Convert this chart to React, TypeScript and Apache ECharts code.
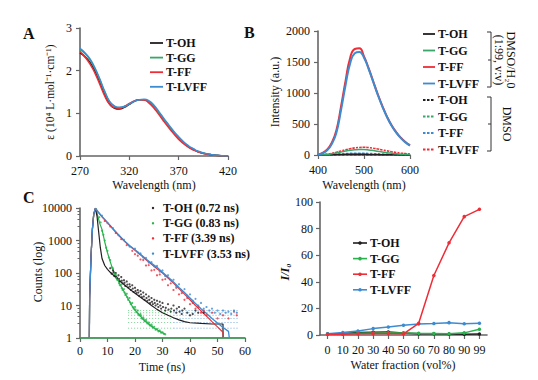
import React, { useEffect, useRef } from "react";
import * as echarts from "echarts";

const FONT = "'Liberation Serif', 'Times New Roman', serif";
const AX = "#666666";
const TXT = "#111111";
const K = "#231f20";
const G = "#3aa66a";
const G2 = "#27b24c";
const R = "#ee2d36";
const B = "#3d8bd0";

// ---------- Panel A : absorption ----------
const wlA = [270, 275, 280, 285, 290, 295, 300, 305, 310, 315, 320, 325, 330, 335, 340, 345, 350, 355, 360, 365, 370, 375, 380, 385, 390, 395, 400, 405, 410, 415, 420];
const absOH = [2.42, 2.33, 2.2, 2.0, 1.74, 1.45, 1.22, 1.12, 1.1, 1.14, 1.21, 1.28, 1.32, 1.32, 1.27, 1.16, 1.01, 0.85, 0.7, 0.55, 0.42, 0.31, 0.22, 0.15, 0.1, 0.065, 0.04, 0.025, 0.013, 0.006, 0.002];
const absGG = [2.5, 2.4, 2.26, 2.05, 1.79, 1.5, 1.27, 1.16, 1.13, 1.16, 1.22, 1.28, 1.32, 1.32, 1.27, 1.16, 1.01, 0.85, 0.7, 0.55, 0.42, 0.31, 0.22, 0.15, 0.1, 0.065, 0.04, 0.025, 0.013, 0.006, 0.002];
const absFF = [2.45, 2.32, 2.16, 1.95, 1.68, 1.41, 1.21, 1.13, 1.12, 1.16, 1.23, 1.29, 1.32, 1.31, 1.24, 1.12, 0.97, 0.81, 0.66, 0.52, 0.39, 0.29, 0.2, 0.14, 0.09, 0.06, 0.035, 0.02, 0.01, 0.005, 0.002];
const absLVFF = [2.52, 2.42, 2.28, 2.07, 1.81, 1.52, 1.28, 1.17, 1.14, 1.16, 1.22, 1.28, 1.32, 1.33, 1.29, 1.19, 1.04, 0.88, 0.73, 0.58, 0.45, 0.33, 0.24, 0.17, 0.11, 0.07, 0.045, 0.028, 0.015, 0.007, 0.002];

// ---------- Panel B : emission ----------
const wlB = [400, 410, 420, 430, 440, 450, 460, 470, 480, 490, 500, 510, 520, 530, 540, 550, 560, 570, 580, 590, 600];
const emOH = [1, 2, 3, 5, 7, 9, 11, 12, 12, 12, 11, 10, 8, 7, 5, 4, 3, 2, 2, 1, 1];
const emGG = [2, 5, 10, 20, 33, 48, 63, 76, 85, 89, 88, 82, 72, 60, 48, 37, 28, 20, 14, 10, 7];
const emFF = [10, 35, 90, 200, 400, 780, 1200, 1570, 1710, 1720, 1590, 1400, 1190, 980, 790, 620, 480, 370, 280, 210, 158];
const emLVFF = [8, 28, 75, 175, 360, 720, 1130, 1480, 1640, 1660, 1570, 1390, 1180, 970, 780, 612, 472, 362, 272, 204, 152];
const emOHd = [0, 1, 1, 2, 2, 3, 3, 3, 3, 3, 3, 3, 2, 2, 2, 1, 1, 1, 1, 0, 0];
const emGGd = [1, 2, 4, 7, 10, 14, 17, 19, 20, 20, 19, 17, 15, 12, 10, 8, 6, 4, 3, 2, 2];
const emFFd = [1, 3, 6, 11, 17, 22, 26, 29, 30, 30, 29, 27, 24, 20, 17, 13, 10, 8, 6, 4, 3];
const emLVFFd = [3, 7, 15, 28, 45, 65, 85, 102, 115, 122, 124, 120, 110, 97, 82, 67, 53, 41, 31, 23, 17];

// ---------- Panel C : decay (t ns, counts) ----------
const fitOH = [[3.4, 1], [3.5, 20], [4, 300], [4.5, 2200], [5, 6500], [5.6, 9800], [6.2, 5500], [6.8, 1800], [7.4, 600], [8, 280], [9, 170], [10, 130], [11, 105], [12, 88], [14, 62], [16, 44], [18, 32], [20, 24], [22, 18], [24, 13.5], [26, 10], [28, 7.6], [30, 6], [32, 5], [34, 4.2], [36, 3.6], [38, 3.2], [40, 2.95], [44, 2.8], [48, 2.7], [52, 2.7], [52, 1]];
const fitGG = [[3.4, 1], [3.5, 20], [4, 300], [4.5, 2200], [5, 6500], [5.8, 9900], [6.5, 5500], [7.2, 3300], [8, 2200], [9, 900], [10, 420], [11, 220], [12, 125], [13, 80], [14, 55], [15, 38], [16, 27], [17, 19], [18, 13.5], [19, 9.5], [20, 7.2], [21, 5.8], [22, 4.6], [23, 3.7], [24, 3.1], [25, 2.7], [26, 2.3], [27, 2], [28, 1.8], [29, 1.6], [30, 1.45], [31, 1.3]];
const fitFF = [[3.4, 1], [3.5, 15], [4, 300], [4.5, 2200], [5, 6500], [5.6, 9800], [6.5, 7600], [8, 5300], [10, 3500], [12, 2250], [14, 1450], [16, 980], [18, 680], [20, 500], [22, 360], [24, 255], [26, 185], [28, 135], [30, 100], [32, 70], [34, 49], [36, 33], [38, 22.5], [40, 15], [42, 10], [44, 6.8], [46, 4.7], [48, 3.2], [50, 2.2], [52, 1.5], [52.2, 1]];
const fitLVFF = [[3.4, 1], [3.5, 15], [4, 300], [4.5, 2200], [5, 6500], [5.6, 9900], [6.5, 7800], [8, 5500], [10, 3600], [12, 2300], [14, 1500], [16, 1000], [18, 700], [20, 520], [22, 380], [24, 270], [26, 200], [28, 150], [30, 105], [32, 75], [34, 53], [36, 36], [38, 25], [40, 17], [42, 11.5], [44, 8], [46, 5.7], [48, 4], [50, 2.9], [52, 2.1], [54, 1.6], [54.3, 1]];
const ptsOH = [[11, 140], [11.5, 95], [12, 120], [12.5, 80], [13, 100], [13.5, 70], [14, 85], [14.5, 55], [15, 75], [15.5, 48], [16, 60], [16.5, 40], [17, 55], [17.5, 36], [18, 45], [18.5, 30], [19, 42], [19.5, 26], [20, 35], [20.5, 24], [21, 30], [21.5, 20], [22, 28], [22.5, 18], [23, 25], [23.5, 15], [24, 22], [24.5, 14], [25, 19], [25.5, 12], [26, 17], [26.5, 11], [27, 15], [27.5, 10], [28, 14], [28.5, 9], [29, 13], [29.5, 8], [30, 12], [31, 7], [32, 11], [33, 6.5], [34, 10], [35, 6], [36, 9], [37, 5.5], [38, 8], [40, 5], [42, 7], [45, 6],
  [12.2, 105], [13.2, 78], [14.2, 66], [15.2, 58], [16.2, 50], [17.2, 44], [18.2, 38], [19.2, 33], [20.2, 28], [21.2, 25], [22.2, 22], [23.2, 19], [24.2, 17], [25.2, 15], [26.2, 13], [27.2, 12], [28.2, 11], [29.2, 10], [30.2, 9], [31.2, 8.5], [32.2, 7.5], [33.2, 8], [34.2, 7], [35.2, 8], [36.2, 6.5], [37.2, 7], [39, 6], [41, 5.5], [43, 6]];
const ptsGG = [[7, 5200], [7.5, 3600], [8, 2000], [8.5, 1500], [9, 1000], [9.5, 600], [10, 480], [10.5, 300], [11, 250], [11.5, 150], [12, 140], [12.5, 95], [13, 90], [13.5, 62], [14, 60], [14.5, 42], [15, 44], [15.5, 30], [16, 32], [16.5, 21], [17, 23], [17.5, 15], [18, 17], [18.5, 11], [19, 12], [19.5, 8], [20, 9], [20.5, 6.2], [21, 7], [21.5, 5], [22, 5.4], [22.5, 4], [23, 4.3], [23.5, 3.3], [24, 3.6], [24.5, 2.8], [25, 3], [25.5, 2.4], [26, 2.6], [26.5, 2.1], [27, 2.2], [27.5, 1.8], [28, 1.9], [28.5, 1.6], [29, 1.7], [29.5, 1.45], [30, 1.5], [30.5, 1.35], [31, 1.3],
  [13.2, 70], [14.2, 48], [15.2, 34], [16.2, 25], [17.2, 18], [18.2, 12.5], [19.2, 9], [20.2, 7.5], [21.2, 5.5], [22.2, 4.8], [23.2, 3.8], [24.2, 3.2], [25.2, 2.6], [26.2, 2.3]];
const ptsFF = [[9, 4000], [11, 2700], [13, 1700], [15, 1100], [17, 720], [19, 480], [20, 380], [21, 340], [22, 260], [23, 250], [24, 170], [25, 175], [26, 120], [27, 125], [28, 85], [29, 90], [30, 62], [31, 65], [32, 42], [33, 48], [34, 30], [35, 35], [36, 22], [37, 24], [38, 15], [39, 17], [40, 11], [41, 12], [42, 8], [43, 9], [44, 6], [45, 7], [46, 5], [48, 6], [50, 4], [52, 5], [54, 4], [56, 6.5], [57, 5]];
const ptsLVFF = [[8, 5800], [10, 3400], [12, 2400], [14, 1450], [16, 1050], [18, 650], [20, 560], [21, 430], [22, 400], [23, 300], [24, 290], [25, 210], [26, 215], [27, 160], [28, 165], [29, 110], [30, 120], [31, 80], [32, 85], [33, 60], [34, 62], [35, 40], [36, 45], [37, 28], [38, 32], [39, 20], [40, 22], [41, 14], [42, 16], [43, 10], [44, 12], [45, 8], [46, 9], [47, 7], [48, 8], [49, 6], [50, 7], [51, 5.5], [52, 7], [53, 6], [54, 6.5], [55, 5.5], [56, 7], [57, 6]];
const rowLevels = [2, 3, 4, 5, 6, 7];
const rowGreen = [17.5, 34];
const rowBlue = [34, 57.5];
const baseline = [[0, 1], [60, 1]];

// ---------- Panel D : water fraction ----------
const waterFrac = ["0", "10", "20", "30", "40", "50", "60", "70", "80", "90", "99"];
const dOH = [0.8, 1.2, 1.8, 2.0, 2.2, 1.5, 1.0, 0.9, 0.7, 0.6, 0.8];
const dGG = [0.8, 1.0, 1.3, 1.5, 1.6, 1.5, 1.3, 1.2, 1.0, 1.6, 4.3];
const dFF = [0.5, 0.6, 1.0, 1.2, 1.2, 0.9, 8.8, 44.7, 69.3, 89, 94.5];
const dLVFF = [0.9, 1.9, 3.0, 4.8, 6.0, 7.3, 8.2, 8.7, 9.3, 8.5, 8.9];

const namesA = ["T-OH", "T-GG", "T-FF", "T-LVFF"];
const namesC = ["T-OH (0.72 ns)", "T-GG (0.83 ns)", "T-FF (3.39 ns)", "T-LVFF (3.53 ns)"];

const zip = (xs: number[], ys: number[]) => xs.map((x, i) => [x, ys[i]]);
const plain = (v: number) => String(v);

function axisBase() {
  return {
    axisLine: { show: true, onZero: false, lineStyle: { color: AX, width: 1.6 } },
    axisTick: { show: true, inside: false, length: 4, lineStyle: { color: AX, width: 1.2 } },
    axisLabel: { color: TXT, fontFamily: FONT, fontSize: 12, formatter: plain },
    splitLine: { show: false },
  };
}

function txt(text: string, x: number, y: number, o: any = {}) {
  return {
    type: "text",
    x,
    y,
    rotation: o.rotation || 0,
    style: {
      text,
      fill: o.fill || TXT,
      fontFamily: FONT,
      fontSize: o.size || 12,
      fontWeight: o.weight || "normal",
      fontStyle: o.italic ? "italic" : "normal",
      align: o.align || "left",
      textAlign: o.align || "left",
      verticalAlign: "middle",
      textVerticalAlign: "middle",
    },
  };
}

function seg(x1: number, y1: number, x2: number, y2: number, color: string, w = 1.6, dash?: number[]) {
  return {
    type: "line",
    shape: { x1, y1, x2, y2 },
    style: { stroke: color, lineWidth: w, lineDash: dash },
  };
}

export default function App() {
  const ref = useRef<HTMLDivElement>(null);
  useEffect(() => {
    document.body.style.margin = "0";
    const chart = echarts.init(ref.current!, null, { renderer: "svg" });
    const line = (name: string, data: any, color: string, xi: number, w = 1.5, extra: any = {}) => ({
      name,
      type: "line",
      xAxisIndex: xi,
      yAxisIndex: xi,
      data,
      showSymbol: false,
      symbol: "none",
      lineStyle: { color, width: w, opacity: extra.opacity ?? 1, ...(extra.lineStyle || {}) },
      itemStyle: { color },
      smooth: extra.smooth ?? false,
      z: extra.z ?? 2,
      silent: true,
    });
    const scat = (data: any, color: string, z = 3) => ({
      type: "scatter",
      xAxisIndex: 2,
      yAxisIndex: 2,
      data,
      symbolSize: 2.2,
      itemStyle: { color },
      z,
      silent: true,
    });

    const rowSeries: any[] = [];
    rowLevels.forEach((lv) => {
      rowSeries.push(line("", [[rowGreen[0], lv], [rowGreen[1], lv]], G2, 2, 1, { opacity: 0.6, lineStyle: { type: [1, 2] } }));
      rowSeries.push(line("", [[rowBlue[0], lv], [rowBlue[1], lv]], B, 2, 1, { opacity: 0.7, lineStyle: { type: [1, 2] } }));
    });

    const dLine = (name: string, data: number[], color: string, z: number) => ({
      name,
      type: "line",
      xAxisIndex: 3,
      yAxisIndex: 3,
      data,
      symbol: "circle",
      symbolSize: 3.5,
      showSymbol: true,
      lineStyle: { color, width: 1.5 },
      itemStyle: { color },
      z,
      silent: true,
    });

    const colA = [K, G, R, B];
    const graphics: any[] = [];
    graphics.push(txt("A", 23, 33, { size: 16, weight: "bold" }));
    graphics.push(txt("B", 244, 32, { size: 16, weight: "bold" }));
    graphics.push(txt("C", 23, 197, { size: 16, weight: "bold" }));
    graphics.push(txt("Wavelength (nm)", 154, 185, { align: "center" }));
    graphics.push(txt("Wavelength (nm)", 364, 185, { align: "center" }));
    graphics.push(txt("Time (ns)", 162, 367, { align: "center" }));
    graphics.push(txt("Water fraction (vol%)", 403, 365, { align: "center" }));
    graphics.push(txt("ε (10⁴ L·mol⁻¹·cm⁻¹)", 50, 92, { align: "center", rotation: Math.PI / 2, size: 11.5 }));
    graphics.push(txt("Intensity (a.u.)", 275, 92, { align: "center", rotation: Math.PI / 2 }));
    graphics.push(txt("Counts (log)", 38, 272, { align: "center", rotation: Math.PI / 2 }));
    graphics.push(txt("I/I₀", 285, 272, { align: "center", rotation: Math.PI / 2, italic: true, weight: "bold" }));
    namesA.forEach((n, i) => {
      const y = 43 + i * 14.6;
      graphics.push(seg(150, y, 163, y, colA[i], 1.8));
      graphics.push(txt(n, 166, y, { weight: "bold", size: 12 }));
    });
    const colBd = [K, G, B, R];
    for (let i = 0; i < 8; i++) {
      const y = 34 + i * 16.5;
      const dashed = i >= 4;
      const c = dashed ? colBd[i - 4] : colA[i];
      graphics.push(seg(423, y, 435, y, c, 1.8, dashed ? [2.5, 1.5] : undefined));
      graphics.push(txt(namesA[i % 4], 438, y, { weight: "bold", size: 12 }));
    }
    graphics.push({ type: "polyline", shape: { points: [[487, 32], [491, 32], [491, 87], [487, 87]] }, style: { stroke: "#333", lineWidth: 1, fill: "none" } });
    graphics.push(seg(488, 60, 491, 60, "#333", 1));
    graphics.push({ type: "polyline", shape: { points: [[487, 97], [491, 97], [491, 151], [487, 151]] }, style: { stroke: "#333", lineWidth: 1, fill: "none" } });
    graphics.push(seg(488, 124, 491, 124, "#333", 1));
    graphics.push(txt("DMSO/H₂0", 511, 60, { align: "center", rotation: -Math.PI / 2, size: 12 }));
    graphics.push(txt("(1:99, v:v)", 499, 60, { align: "center", rotation: -Math.PI / 2, size: 12 }));
    graphics.push(txt("DMSO", 507, 124, { align: "center", rotation: -Math.PI / 2, size: 12 }));
    const colC = [K, G2, R, B];
    namesC.forEach((n, i) => {
      const y = 208 + i * 15.2;
      graphics.push({ type: "circle", shape: { cx: 153, cy: y, r: 1.2 }, style: { fill: colC[i] } });
      graphics.push(txt(n, 163, y, { weight: "bold", size: 12 }));
    });
    const colD = [K, G2, R, B];
    namesA.forEach((n, i) => {
      const y = 243 + i * 15.6;
      graphics.push(seg(353, y, 367, y, colD[i], 1.6));
      graphics.push({ type: "circle", shape: { cx: 360, cy: y, r: 1.8 }, style: { fill: colD[i] } });
      graphics.push(txt(n, 370, y, { weight: "bold", size: 12 }));
    });

    const option: any = {
      animation: false,
      backgroundColor: "#ffffff",
      grid: [
        { left: 80, top: 28, width: 148, height: 128 },
        { left: 318, top: 31, width: 92, height: 124 },
        { left: 80, top: 208, width: 165, height: 130 },
        { left: 320, top: 202, width: 167, height: 133 },
      ],
      xAxis: [
        { ...axisBase(), gridIndex: 0, type: "value", min: 270, max: 420, interval: 50, axisLabel: { ...axisBase().axisLabel, margin: 9 } },
        { ...axisBase(), gridIndex: 1, type: "value", min: 400, max: 600, interval: 100, axisLabel: { ...axisBase().axisLabel, margin: 9 } },
        { ...axisBase(), gridIndex: 2, type: "value", min: 0, max: 60, interval: 10, axisLabel: { ...axisBase().axisLabel, margin: 7 } },
        { ...axisBase(), gridIndex: 3, type: "category", data: waterFrac, boundaryGap: true, axisTick: { ...axisBase().axisTick, alignWithLabel: true }, axisLabel: { color: TXT, fontFamily: FONT, fontSize: 12, margin: 9, interval: 0 } },
      ],
      yAxis: [
        { ...axisBase(), gridIndex: 0, type: "value", min: 0, max: 3, interval: 1, axisLabel: { ...axisBase().axisLabel, margin: 8 } },
        { ...axisBase(), gridIndex: 1, type: "value", min: 0, max: 2000, interval: 500, axisLabel: { ...axisBase().axisLabel, margin: 8 } },
        { ...axisBase(), gridIndex: 2, type: "log", logBase: 10, min: 1, max: 10000, axisLabel: { ...axisBase().axisLabel, margin: 8 }, minorTick: { show: true, splitNumber: 5, length: 2.5, lineStyle: { color: AX, width: 1 } } },
        { ...axisBase(), gridIndex: 3, type: "value", min: 0, max: 100, interval: 20, axisLabel: { ...axisBase().axisLabel, margin: 7 } },
      ],
      series: [
        line("T-OH", zip(wlA, absOH), K, 0, 1.5, { smooth: true }),
        line("T-GG", zip(wlA, absGG), G, 0, 1.5, { smooth: true }),
        line("T-FF", zip(wlA, absFF), R, 0, 1.5, { smooth: true }),
        line("T-LVFF", zip(wlA, absLVFF), B, 0, 1.5, { smooth: true }),

        line("T-OH d", zip(wlB, emOHd), K, 1, 1.3, { smooth: true, lineStyle: { type: [2.5, 1.5] } }),
        line("T-GG d", zip(wlB, emGGd), G, 1, 1.3, { smooth: true, lineStyle: { type: [2.5, 1.5] } }),
        line("T-FF d", zip(wlB, emFFd), B, 1, 1.3, { smooth: true, lineStyle: { type: [2.5, 1.5] } }),
        line("T-LVFF d", zip(wlB, emLVFFd), R, 1, 1.6, { smooth: true, lineStyle: { type: [2.5, 1] } }),
        line("T-OH s", zip(wlB, emOH), K, 1, 1.5, { smooth: true }),
        line("T-GG s", zip(wlB, emGG), G, 1, 1.5, { smooth: true }),
        line("T-FF s", zip(wlB, emFF), R, 1, 2, { smooth: true }),
        line("T-LVFF s", zip(wlB, emLVFF), B, 1, 2, { smooth: true }),

        line("base", baseline, G2, 2, 1.6, { z: 4 }),
        ...rowSeries,
        scat(ptsOH, K),
        scat(ptsGG, G2),
        scat(ptsFF, R),
        scat(ptsLVFF, B),
        line("gg fit", fitGG, G2, 2, 1.2),
        line("oh fit", fitOH, K, 2, 1.2),
        line("ff fit", fitFF, R, 2, 1.2),
        line("lvff fit", fitLVFF, B, 2, 1.3),

        dLine("T-OH", dOH, K, 2),
        dLine("T-GG", dGG, G2, 3),
        dLine("T-LVFF", dLVFF, B, 4),
        dLine("T-FF", dFF, R, 5),
      ],
      graphic: { elements: graphics },
    };
    chart.setOption(option);
    return () => chart.dispose();
  }, []);
  return <div ref={ref} style={{ width: 538, height: 380 }} />;
}
